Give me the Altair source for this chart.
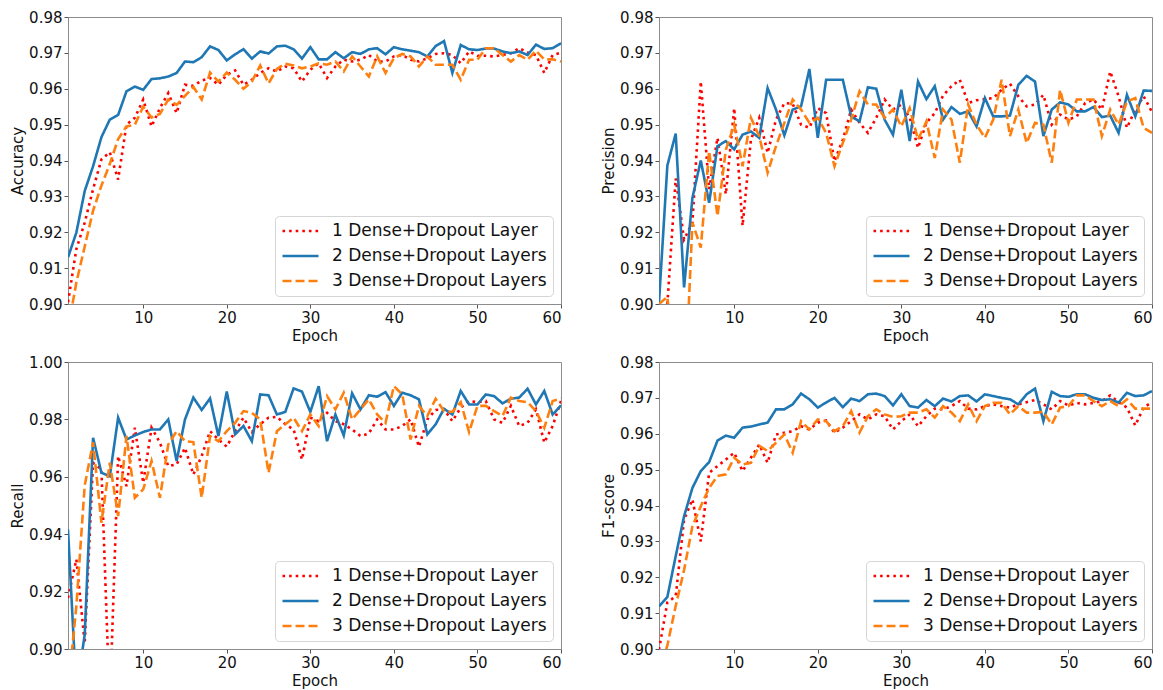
import altair as alt
import pandas as pd

epochs = list(range(1, 61))
series = ["1 Dense+Dropout Layer", "2 Dense+Dropout Layers", "3 Dense+Dropout Layers"]
colors = ["#ff0000", "#1f77b4", "#ff7f0e"]
dashes = [[2.6, 4.0], [1, 0], [9.0, 4.0]]

acc_1 = [0.9005, 0.9153, 0.9227, 0.932, 0.9403, 0.9423, 0.9347, 0.950, 0.9519, 0.957,
         0.9495, 0.9546, 0.9588, 0.9532, 0.9611, 0.9608, 0.9623, 0.963, 0.9611, 0.9639,
         0.9651, 0.9611, 0.9625, 0.9644, 0.9657, 0.9648, 0.9662, 0.9657, 0.962, 0.9653,
         0.9671, 0.963, 0.9662, 0.9681, 0.9676, 0.9681, 0.9694, 0.9676, 0.9676, 0.969,
         0.9694, 0.9681, 0.9676, 0.9685, 0.9697, 0.9699, 0.9694, 0.9671, 0.9704, 0.9692,
         0.9692, 0.969, 0.9694, 0.9699, 0.9713, 0.9701, 0.9694, 0.9644, 0.9694, 0.9701]
acc_2 = [0.913, 0.9199, 0.9315, 0.9384, 0.9465, 0.9514, 0.9527, 0.9593, 0.9606, 0.9597,
         0.9627, 0.9629, 0.9634, 0.9644, 0.9676, 0.9674, 0.9688, 0.9718, 0.9708, 0.9679,
         0.9696, 0.971, 0.9684, 0.9704, 0.9698, 0.9718, 0.972, 0.971, 0.9684, 0.9716,
         0.9682, 0.9682, 0.9702, 0.9685, 0.9702, 0.9697, 0.971, 0.9713, 0.9696, 0.9716,
         0.971, 0.9706, 0.9702, 0.969, 0.9719, 0.9733, 0.9644, 0.9722, 0.971, 0.9708,
         0.9712, 0.9712, 0.9704, 0.9699, 0.9704, 0.9694, 0.9723, 0.9711, 0.9713, 0.9727]
acc_3 = [0.893, 0.906, 0.916, 0.926, 0.933, 0.939, 0.946, 0.9495, 0.950, 0.955,
         0.952, 0.953, 0.957, 0.9555, 0.958, 0.9605, 0.957, 0.9645, 0.962, 0.9645,
         0.9625, 0.960, 0.962, 0.9665, 0.9615, 0.9655, 0.967, 0.9665, 0.9657, 0.9662,
         0.9671, 0.9667, 0.9676, 0.9648, 0.969, 0.9662, 0.9634, 0.969, 0.9644, 0.9685,
         0.9697, 0.969, 0.9662, 0.969, 0.9667, 0.9667, 0.9667, 0.9625, 0.9681, 0.9681,
         0.9713, 0.9713, 0.9694, 0.9676, 0.9694, 0.9681, 0.9706, 0.9682, 0.9682, 0.9676]

prec_1 = [0.895, 0.900, 0.935, 0.918, 0.9227, 0.962, 0.932, 0.9463, 0.9306, 0.9546,
          0.9218, 0.9458, 0.9519, 0.9421, 0.9514, 0.956, 0.9558, 0.950, 0.9491, 0.9546,
          0.9532, 0.9398, 0.9458, 0.9542, 0.9505, 0.9477, 0.9519, 0.957, 0.9542, 0.9556,
          0.952, 0.9435, 0.9505, 0.9532, 0.9581, 0.9607, 0.9625, 0.956, 0.9568, 0.9571,
          0.9574, 0.9597, 0.9614, 0.9579, 0.9551, 0.9556, 0.9583, 0.950, 0.9528, 0.9514,
          0.9523, 0.956, 0.957, 0.9542, 0.9648, 0.9579, 0.9491, 0.9542, 0.9579, 0.9535]
prec_2 = [0.9005, 0.9386, 0.9475, 0.9046, 0.9296, 0.940, 0.9282, 0.944, 0.9454, 0.9431,
          0.9472, 0.9481, 0.9463, 0.9602, 0.9542, 0.947, 0.9542, 0.9551, 0.9655, 0.9463,
          0.9625, 0.9625, 0.9625, 0.9523, 0.9509, 0.9604, 0.960, 0.9514, 0.9472, 0.9597,
          0.9454, 0.962, 0.9571, 0.9607, 0.9514, 0.9549, 0.953, 0.9537, 0.9495, 0.9574,
          0.9523, 0.9523, 0.9525, 0.9611, 0.9636, 0.962, 0.9468, 0.9542, 0.9562, 0.9556,
          0.9537, 0.9537, 0.9549, 0.9521, 0.9525, 0.9477, 0.9583, 0.9523, 0.9595, 0.9594]
prec_3 = [0.900, 0.902, 0.880, 0.870, 0.9227, 0.9157, 0.9426, 0.9245, 0.943, 0.950,
          0.9384, 0.9519, 0.9468, 0.9366, 0.944, 0.9505, 0.957, 0.9542, 0.9505, 0.9519,
          0.9477, 0.9384, 0.9449, 0.9514, 0.9593, 0.9556, 0.9556, 0.9519, 0.9542, 0.9495,
          0.9546, 0.9458, 0.9509, 0.9407, 0.9542, 0.9514, 0.9394, 0.9556, 0.950, 0.9463,
          0.9514, 0.9625, 0.9468, 0.9542, 0.9449, 0.9505, 0.950, 0.9394, 0.9597, 0.9505,
          0.957, 0.957, 0.957, 0.9468, 0.9542, 0.950, 0.9564, 0.9574, 0.9491, 0.9477]

rec_1 = [0.9178, 0.9312, 0.902, 0.9649, 0.9626, 0.880, 0.9672, 0.9567, 0.9771, 0.9579,
         0.9771, 0.9719, 0.9637, 0.9643, 0.9701, 0.9608, 0.9672, 0.9759, 0.973, 0.9705,
         0.9759, 0.9806, 0.9756, 0.9783, 0.9806, 0.9809, 0.9783, 0.9765, 0.966, 0.9806,
         0.9794, 0.9823, 0.9794, 0.9783, 0.9765, 0.9742, 0.9751, 0.980, 0.9765, 0.9765,
         0.9777, 0.980, 0.9705, 0.980, 0.9833, 0.9835, 0.9794, 0.9841, 0.9864, 0.986,
         0.9864, 0.980, 0.9788, 0.9847, 0.9777, 0.9788, 0.9835, 0.9719, 0.9777, 0.9864]
rec_2 = [0.9416, 0.885, 0.905, 0.9736, 0.9614, 0.9602, 0.9806, 0.973, 0.9744, 0.9756,
         0.9765, 0.9765, 0.980, 0.9655, 0.980, 0.9876, 0.9833, 0.9873, 0.9742, 0.9897,
         0.9748, 0.9777, 0.9724, 0.9887, 0.9884, 0.9817, 0.9826, 0.9908, 0.9897, 0.9826,
         0.9916, 0.9724, 0.9817, 0.9744, 0.9891, 0.9835, 0.9884, 0.9879, 0.9895, 0.9847,
         0.9893, 0.9884, 0.987, 0.9748, 0.9783, 0.9837, 0.9817, 0.9899, 0.9852, 0.9852,
         0.9887, 0.9881, 0.9856, 0.9872, 0.9876, 0.9907, 0.9852, 0.9899, 0.9817, 0.9849]
rec_3 = [0.885, 0.915, 0.957, 0.972, 0.944, 0.9649, 0.9463, 0.9742, 0.9527, 0.9556,
         0.9655, 0.9527, 0.9713, 0.9759, 0.9724, 0.9721, 0.9527, 0.9742, 0.9724, 0.9759,
         0.9788, 0.9829, 0.9823, 0.980, 0.9614, 0.9759, 0.9783, 0.9806, 0.9759, 0.9817,
         0.9777, 0.9881, 0.9835, 0.9893, 0.980, 0.9835, 0.987, 0.9817, 0.9788, 0.9916,
         0.9887, 0.973, 0.9847, 0.9812, 0.9872, 0.9829, 0.9826, 0.986, 0.9756, 0.9847,
         0.9847, 0.9829, 0.9812, 0.9876, 0.9864, 0.986, 0.9829, 0.9771, 0.9864, 0.9872]

f1_1 = [0.8998, 0.913, 0.9147, 0.936, 0.9417, 0.930, 0.9491, 0.951, 0.9528, 0.9547,
        0.9496, 0.9533, 0.957, 0.9519, 0.9598, 0.9603, 0.9607, 0.9621, 0.9612, 0.9631,
        0.9637, 0.9603, 0.9617, 0.9635, 0.9654, 0.964, 0.9654, 0.9649, 0.9612, 0.9635,
        0.9654, 0.9621, 0.9649, 0.967, 0.9668, 0.9677, 0.9691, 0.967, 0.9668, 0.9677,
        0.9682, 0.9677, 0.9673, 0.9682, 0.9688, 0.9694, 0.9682, 0.9668, 0.9691, 0.9679,
        0.9686, 0.9682, 0.9686, 0.9691, 0.9707, 0.9688, 0.9673, 0.9623, 0.9673, 0.9688]
f1_2 = [0.9119, 0.9145, 0.9259, 0.937, 0.9449, 0.9496, 0.9521, 0.9581, 0.9595, 0.9589,
        0.9617, 0.962, 0.9626, 0.9631, 0.9668, 0.9668, 0.9682, 0.9712, 0.9696, 0.9673,
        0.9687, 0.970, 0.9674, 0.9698, 0.9691, 0.971, 0.9712, 0.9705, 0.9679, 0.971,
        0.9677, 0.9673, 0.9694, 0.9677, 0.9698, 0.969, 0.9705, 0.9707, 0.969, 0.971,
        0.9705, 0.970, 0.9696, 0.9682, 0.971, 0.9726, 0.9635, 0.9717, 0.9705, 0.9703,
        0.971, 0.971, 0.970, 0.9694, 0.9696, 0.9687, 0.9714, 0.9705, 0.9707, 0.9719]
f1_3 = [0.893, 0.901, 0.912, 0.922, 0.9342, 0.9398, 0.9449, 0.9482, 0.9487, 0.9533,
        0.9514, 0.9519, 0.9566, 0.9552, 0.9575, 0.9598, 0.9547, 0.9635, 0.9612, 0.964,
        0.9635, 0.9607, 0.9621, 0.9663, 0.9603, 0.9649, 0.9668, 0.9654, 0.9647, 0.9649,
        0.9659, 0.9659, 0.9668, 0.9645, 0.9677, 0.9659, 0.9635, 0.9682, 0.9635, 0.9677,
        0.9686, 0.9686, 0.9654, 0.9677, 0.9659, 0.9659, 0.9661, 0.9626, 0.9673, 0.9677,
        0.9707, 0.9707, 0.9691, 0.9677, 0.9691, 0.9677, 0.9696, 0.967, 0.967, 0.967]

x_ticks = [10, 20, 30, 40, 50, 60]
y_ticks_a = [0.90, 0.91, 0.92, 0.93, 0.94, 0.95, 0.96, 0.97, 0.98]
y_ticks_r = [0.90, 0.92, 0.94, 0.96, 0.98, 1.00]

FONT = "DejaVu Sans"


def panel(v1, v2, v3, ytitle, ydomain, yticks):
    rows = []
    for name, vals in zip(series, [v1, v2, v3]):
        for e, v in zip(epochs, vals):
            rows.append({"Epoch": e, "Value": v, "Series": name})
    df = pd.DataFrame(rows)
    leg = alt.Legend(
        title=None, orient="bottom-right", offset=8,
        fillColor="white", strokeColor="#d5d5d5", cornerRadius=4, padding=6,
        labelFont=FONT, labelFontSize=17, labelColor="#111", labelLimit=400,
        symbolType="stroke", symbolSize=1296, symbolStrokeWidth=2.6,
        labelOffset=12, clipHeight=18, rowPadding=7,
    )
    return alt.Chart(df).mark_line(clip=True, strokeWidth=2.6).encode(
        x=alt.X("Epoch:Q", scale=alt.Scale(domain=[1, 60], nice=False, zero=False),
                axis=alt.Axis(values=x_ticks, title="Epoch")),
        y=alt.Y("Value:Q", scale=alt.Scale(domain=ydomain, nice=False, zero=False),
                axis=alt.Axis(values=yticks, format=".2f", title=ytitle)),
        color=alt.Color("Series:N", scale=alt.Scale(domain=series, range=colors), legend=leg),
        strokeDash=alt.StrokeDash("Series:N", scale=alt.Scale(domain=series, range=dashes), legend=leg),
        order=alt.Order("Epoch:Q"),
    ).properties(width=493, height=287)


p1 = panel(acc_1, acc_2, acc_3, "Accuracy", [0.90, 0.98], y_ticks_a)
p2 = panel(prec_1, prec_2, prec_3, "Precision", [0.90, 0.98], y_ticks_a)
p3 = panel(rec_1, rec_2, rec_3, "Recall", [0.90, 1.00], y_ticks_r)
p4 = panel(f1_1, f1_2, f1_3, "F1-score", [0.90, 0.98], y_ticks_a)

chart = alt.concat(
    p1, p2, p3, p4, columns=2,
    spacing={"row": 58, "column": 98}, bounds="flush",
).resolve_scale(
    color="independent", strokeDash="independent", x="independent", y="independent"
).resolve_legend(
    color="independent", strokeDash="independent"
).properties(
    padding={"left": 10, "top": 9, "right": 5, "bottom": 5},
    background="white",
).configure_axis(
    labelFont=FONT, labelFontSize=15, labelColor="#111", labelPadding=2,
    titleFont=FONT, titleFontSize=15, titleFontWeight="normal", titleColor="#111",
    titlePadding=3, grid=False, domainColor="#8c8c8c", domainWidth=1,
    tickColor="#555", tickSize=4, tickWidth=1,
).configure_view(stroke="#8c8c8c", strokeWidth=1)

chart.save("out.html", embed_options={"renderer": "svg", "actions": False})
